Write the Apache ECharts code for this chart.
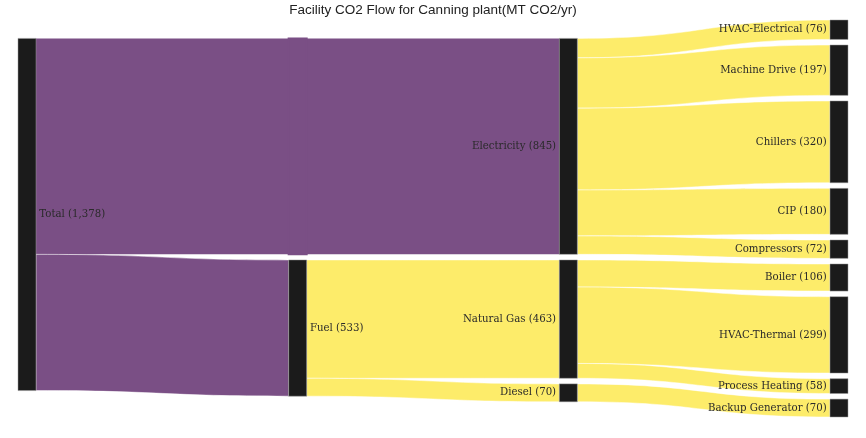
<!DOCTYPE html>
<html>
<head>
<meta charset="utf-8">
<script src="https://cdn.jsdelivr.net/npm/echarts@6/dist/echarts.min.js"></script>
<style>html,body{margin:0;padding:0;background:#fff}#c{width:866px;height:438px}</style>
</head>
<body>
<div id="c"></div>
<script>
// Nodes (name, column)
const nodeNames = ['Total','Fuel','Electricity','Natural Gas','Diesel',
  'HVAC-Electrical','Machine Drive','Chillers','CIP','Compressors',
  'Boiler','HVAC-Thermal','Process Heating','Backup Generator'];
const nodeColumns = [0,1,2,2,2,3,3,3,3,3,3,3,3,3];

// Flows (MT CO2/yr)
const linkSources = ['Total','Total','Fuel','Fuel',
  'Electricity','Electricity','Electricity','Electricity','Electricity',
  'Natural Gas','Natural Gas','Natural Gas','Diesel'];
const linkTargets = ['Electricity','Fuel','Natural Gas','Diesel',
  'HVAC-Electrical','Machine Drive','Chillers','CIP','Compressors',
  'Boiler','HVAC-Thermal','Process Heating','Backup Generator'];
const linkValues = [845,533,463,70,76,197,320,180,72,106,299,58,70];

const PURPLE = '#7a4f85';
const YELLOW = '#fdec6a';
const rightLabelNodes = ['Total','Fuel'];

// ---- layout helpers (not data) ----
// invisible top padding band used to vertically centre the inner columns
const PAD_FLOW = 50;
const PAD_COLUMNS = [0,1,2];

const colOf = {};
nodeNames.forEach((n,i)=>{ colOf[n] = nodeColumns[i]; });
const nodes = [];
const links = [];

// invisible padding chain (first in each column)
PAD_COLUMNS.forEach((c,k)=>{
  nodes.push({name:'\u200bpad'+c, depth:c,
    itemStyle:{color:'rgba(0,0,0,0)', borderWidth:0}, label:{show:false}});
  if (k>0) links.push({source:'\u200bpad'+PAD_COLUMNS[k-1], target:'\u200bpad'+c,
    value:PAD_FLOW, lineStyle:{opacity:0, borderWidth:0}});
});

// links that skip columns are routed through hidden pass-through nodes
linkSources.forEach((s,i)=>{
  const t = linkTargets[i], v = linkValues[i];
  const color = s==='Total' ? PURPLE : YELLOW;
  let prev = s;
  for (let c = colOf[s]+1; c < colOf[t]; c++) {
    const hid = '\u200b' + s + '\u2192' + t + '#' + c;
    nodes.push({name:hid, depth:c,
      itemStyle:{color:color, borderColor:color, borderWidth:2},
      label:{show:false}});
    links.push({source:prev, target:hid, value:v, lineStyle:{color:color, borderWidth:0}});
    prev = hid;
  }
  links.push({source:prev, target:t, value:v,
    lineStyle: prev===s ? {color:color} : {color:color, borderWidth:0}});
});

nodeNames.forEach((n,i)=>nodes.push({
  name:n, depth:nodeColumns[i],
  label:{position: rightLabelNodes.includes(n) ? 'right' : 'left'}
}));
// stable sort by column keeps padding / pass-through nodes on top
nodes.sort((a,b)=>a.depth-b.depth);

const chart = echarts.init(document.getElementById('c'), null, {renderer:'canvas'});
chart.setOption({
  animation:false,
  title:{
    text:'Facility CO2 Flow for Canning plant(MT CO2/yr)',
    left:'center', top:-2,
    textStyle:{fontFamily:'Liberation Sans, Arial, sans-serif', fontSize:13.5, fontWeight:'normal', color:'#222'}
  },
  series:[{
    type:'sankey',
    left:18, right:18, top:20, bottom:21,
    nodeWidth:18, nodeGap:5.6,
    layoutIterations:0,
    draggable:false,
    silent:true,
    emphasis:{disabled:true},
    data:nodes,
    links:links,
    itemStyle:{color:'#1b1b1b', borderColor:'#999', borderWidth:0.5},
    lineStyle:{opacity:1, curveness:0.5, borderColor:'#fff', borderWidth:0.5},
    label:{
      show:true, distance:3,
      fontFamily:'DejaVu Serif, serif', fontSize:10.2, color:'#2a2a2a',
      formatter:p=>p.name+' ('+p.value.toLocaleString('en-US')+')'
    }
  }]
});
</script>
</body>
</html>
